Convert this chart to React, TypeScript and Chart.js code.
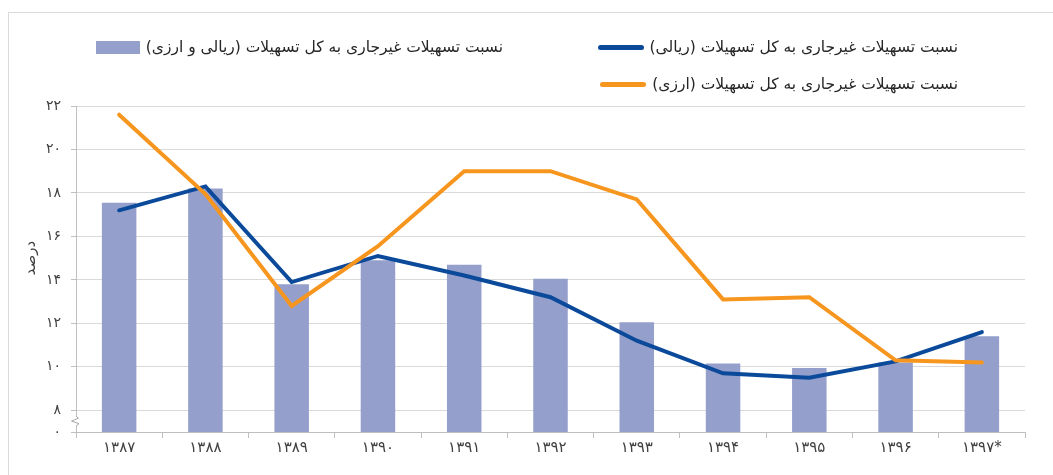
import React, { useEffect, useRef } from "react";
import { Chart, registerables } from "chart.js";
Chart.register(...registerables);

const categories = ["۱۳۸۷", "۱۳۸۸", "۱۳۸۹", "۱۳۹۰", "۱۳۹۱", "۱۳۹۲", "۱۳۹۳", "۱۳۹۴", "۱۳۹۵", "۱۳۹۶", "۱۳۹۷*"];
const totalValues = [17.55, 18.2, 13.8, 14.9, 14.7, 14.05, 12.05, 10.15, 9.95, 10.2, 11.4];
const rialValues = [17.2, 18.3, 13.9, 15.1, 14.2, 13.2, 11.2, 9.7, 9.5, 10.25, 11.6];
const fxValues = [21.6, 17.95, 12.8, 15.55, 19.0, 19.0, 17.7, 13.1, 13.2, 10.3, 10.2];
const yTickValues = [7, 8, 10, 12, 14, 16, 18, 20, 22];
const yTickLabels = ["۰", "۸", "۱۰", "۱۲", "۱۴", "۱۶", "۱۸", "۲۰", "۲۲"];

const labelTotal = "نسبت تسهیلات غیرجاری به کل تسهیلات (ریالی و ارزی)";
const labelRial = "نسبت تسهیلات غیرجاری به کل تسهیلات (ریالی)";
const labelFx = "نسبت تسهیلات غیرجاری به کل تسهیلات (ارزی)";
const yTitle = "درصد";

const BAR = "#959fcc";
const BLUE = "#0b4a9b";
const ORANGE = "#f7961f";
const FONT = "'DejaVu Sans', 'Noto Sans', sans-serif";

const extras = {
  id: "extras",
  beforeDraw(chart: any) {
    const ctx = chart.ctx;
    ctx.save();
    ctx.fillStyle = "#d9d9d9";
    ctx.fillRect(8, 12, chart.width - 8, 1);
    ctx.fillRect(8, 12, 1, chart.height - 12);
    ctx.restore();
  },
  afterDraw(chart: any) {
    const ctx = chart.ctx;
    const x = chart.chartArea.left;
    const ys = chart.scales.y;
    const yMid = ys.getPixelForValue(7.5);
    ctx.save();
    ctx.fillStyle = "#ffffff";
    ctx.fillRect(x - 1.5, yMid - 5, 3, 10);
    ctx.strokeStyle = "#a6a6a6";
    ctx.lineWidth = 1;
    ctx.beginPath();
    ctx.moveTo(x, yMid - 5);
    ctx.lineTo(x + 2.5, yMid - 3);
    ctx.lineTo(x - 4.5, yMid);
    ctx.lineTo(x + 3, yMid + 2.5);
    ctx.lineTo(x, yMid + 5);
    ctx.stroke();
    ctx.translate(31, ys.getPixelForValue(15));
    ctx.rotate(-Math.PI / 2);
    ctx.fillStyle = "#404040";
    ctx.font = "15px " + FONT;
    ctx.textAlign = "center";
    ctx.textBaseline = "middle";
    ctx.fillText(yTitle, 0, 0);
    ctx.restore();
  },
};

function LegendItem(props: { text: string; right: number; top: number; swatch: React.ReactNode }) {
  return (
    <div
      dir="rtl"
      style={{
        position: "absolute",
        right: props.right,
        top: props.top,
        height: 20,
        display: "flex",
        alignItems: "center",
        gap: 6,
        fontFamily: FONT,
        fontSize: 15.5,
        color: "#262626",
        whiteSpace: "nowrap",
      }}
    >
      <span>{props.text}</span>
      {props.swatch}
    </div>
  );
}

export default function App() {
  const ref = useRef<HTMLCanvasElement | null>(null);
  useEffect(() => {
    if (!ref.current) return;
    const chart = new Chart(ref.current, {
      type: "bar",
      data: {
        labels: categories,
        datasets: [
          {
            type: "bar",
            label: labelTotal,
            data: totalValues,
            backgroundColor: BAR,
            barPercentage: 0.4,
            categoryPercentage: 1,
            order: 3,
          },
          {
            type: "line",
            label: labelRial,
            data: rialValues,
            borderColor: BLUE,
            backgroundColor: BLUE,
            borderWidth: 4,
            pointRadius: 0,
            borderCapStyle: "round",
            tension: 0,
            order: 2,
          },
          {
            type: "line",
            label: labelFx,
            data: fxValues,
            borderColor: ORANGE,
            backgroundColor: ORANGE,
            borderWidth: 4,
            pointRadius: 0,
            borderCapStyle: "round",
            tension: 0,
            order: 1,
          },
        ] as any,
      },
      options: {
        responsive: false,
        animation: false,
        layout: { padding: { top: 106, right: 28, bottom: 0, left: 0 } },
        plugins: { legend: { display: false }, tooltip: { enabled: false } },
        scales: {
          x: {
            grid: { display: true, drawOnChartArea: false, tickLength: 6, tickColor: "#bfbfbf", offset: true },
            border: { color: "#bfbfbf" },
            ticks: { color: "#404040", font: { family: FONT, size: 15 }, padding: 1, maxRotation: 0 },
            afterFit: (s: any) => {
              s.height = 43;
            },
          },
          y: {
            min: 7,
            max: 22,
            afterBuildTicks: (s: any) => {
              s.ticks = yTickValues.map((value) => ({ value }));
            },
            ticks: {
              color: "#404040",
              font: { family: FONT, size: 14 },
              padding: 10,
              callback: (v: any) => {
                const i = yTickValues.indexOf(Number(v));
                return i >= 0 ? yTickLabels[i] : "";
              },
            },
            grid: { color: "#d9d9d9", tickLength: 5, tickColor: "#bfbfbf" },
            border: { color: "#bfbfbf" },
            afterFit: (s: any) => {
              s.width = 76;
            },
          },
        },
      },
      plugins: [extras],
    });
    return () => chart.destroy();
  }, []);

  const lineSwatch = (c: string) => (
    <span style={{ display: "inline-block", width: 46, height: 5, borderRadius: 3, background: c }} />
  );

  return (
    <div style={{ position: "absolute", left: 0, top: 0, width: 1053, height: 475, background: "#fff", overflow: "hidden" }}>
      <canvas ref={ref} width={1053} height={475} style={{ position: "absolute", left: 0, top: 0, width: 1053, height: 475 }} />
      <LegendItem text={labelRial} right={95} top={37} swatch={lineSwatch(BLUE)} />
      <LegendItem text={labelFx} right={95} top={74} swatch={lineSwatch(ORANGE)} />
      <LegendItem
        text={labelTotal}
        right={550}
        top={37}
        swatch={<span style={{ display: "inline-block", width: 44, height: 13, background: BAR }} />}
      />
    </div>
  );
}
